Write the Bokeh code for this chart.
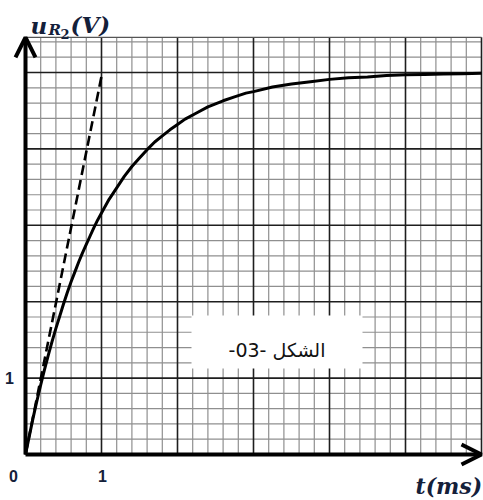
import numpy as np
from bokeh.plotting import figure
from bokeh.models import Range1d, Arrow, OpenHead
from bokeh.core.properties import value
from bokeh.embed import file_html
from bokeh.resources import INLINE

# ---- data ----
t_ms = [0, 0.05, 0.1, 0.15, 0.2, 0.25, 0.3, 0.35, 0.4, 0.45, 0.5, 0.55, 0.6, 0.65,
        0.7, 0.75, 0.8, 0.85, 0.9, 0.95, 1.0, 1.1, 1.2, 1.3, 1.4, 1.5, 1.6, 1.7,
        1.8, 1.9, 2.0, 2.1, 2.25, 2.4, 2.5, 2.6, 2.75, 2.9, 3.0, 3.25, 3.5, 3.75,
        4.0, 4.25, 4.5, 4.75, 5.0, 5.25, 5.5, 5.75, 6.0]
u_R2 = [0, 0.24, 0.48, 0.70, 0.91, 1.11, 1.30, 1.48, 1.65, 1.81, 1.97, 2.12, 2.26,
        2.39, 2.52, 2.64, 2.75, 2.86, 2.97, 3.07, 3.16, 3.34, 3.49, 3.64, 3.77,
        3.88, 3.99, 4.09, 4.17, 4.25, 4.32, 4.39, 4.47, 4.55, 4.59, 4.63, 4.68,
        4.73, 4.75, 4.81, 4.85, 4.88, 4.91, 4.93, 4.94, 4.96, 4.97, 4.975, 4.98,
        4.985, 4.99]
tangent_t = [0, 1.0]
tangent_u = [0, 4.95]
x_tick_labels = ["0", "1"]
y_tick_labels = ["1"]
x_max, y_top = 6.0, 5.46
x_minor, y_minor = 0.2, 0.2
caption = "-03- الشكل"

# pixel scale of the reference
SX, SY, OX, OY = 76.0, 76.4, 25.0, 454.0
W, H = 483, 500
INK = "#14203a"

def dx(px):
    return (px - OX) / SX

def dy(py):
    return (OY - py) / SY

p = figure(width=W, height=H, output_backend="svg", toolbar_location=None,
           x_range=Range1d(dx(0), dx(W)), y_range=Range1d(dy(H), dy(0)),
           min_border=0)
p.axis.visible = False
p.grid.visible = False
p.outline_line_color = None
p.background_fill_color = "white"

# ---- graph paper ----
xs = np.round(np.arange(0, x_max + 1e-9, x_minor), 6)
ys = np.round(np.arange(0, y_top, y_minor), 6)
xminor = [v for v in xs if abs(v - round(v)) > 1e-6]
xmajor = [v for v in xs if abs(v - round(v)) <= 1e-6 and v > 0]
yminor = [v for v in ys if abs(v - round(v)) > 1e-6]
ymajor = [v for v in ys if abs(v - round(v)) <= 1e-6 and v > 0]

p.segment(x0=xminor, y0=0, x1=xminor, y1=y_top, line_color="#8f8f8f", line_width=1.2)
p.segment(x0=0, y0=yminor, x1=x_max, y1=yminor, line_color="#8f8f8f", line_width=1.2)
p.segment(x0=xmajor, y0=0, x1=xmajor, y1=y_top, line_color="#1e1e1e", line_width=1.6)
p.segment(x0=0, y0=ymajor, x1=x_max, y1=ymajor, line_color="#1e1e1e", line_width=1.6)
p.segment(x0=[0], y0=[y_top], x1=[x_max], y1=[y_top], line_color="#555555", line_width=1.4)

# ---- caption box ----
p.quad(left=[dx(191)], right=[dx(362)], bottom=[dy(368)], top=[dy(315)],
       fill_color="white", line_color=None)
p.text(x=[dx(276.5)], y=[dy(349)], text=[caption], text_font=value("DejaVu Sans"),
       text_font_size="19px", text_align="center", text_baseline="alphabetic",
       text_color="#111111")

# ---- curve and tangent ----
p.line(tangent_t, tangent_u, line_color="black", line_width=2.6, line_dash="10 5")
p.line(t_ms, u_R2, line_color="black", line_width=3, line_join="round")

# ---- axes with arrows ----
p.add_layout(Arrow(end=OpenHead(size=20, line_width=4, line_color="black"),
                   x_start=0, y_start=0, x_end=0, y_end=y_top,
                   line_width=4, line_color="black"))
p.add_layout(Arrow(end=OpenHead(size=20, line_width=4, line_color="black"),
                   x_start=0, y_start=0, x_end=x_max, y_end=0,
                   line_width=4, line_color="black"))

# ---- tick labels ----
tick_font = value("Liberation Sans")
p.text(x=[dx(13), dx(102)], y=[dy(475)] * 2, text=x_tick_labels, text_font=tick_font,
       text_font_size="16px", text_font_style="bold", text_align="center",
       text_baseline="alphabetic", text_color=INK)
p.text(x=[dx(9)], y=[dy(377)], text=y_tick_labels, text_font=tick_font,
       text_font_size="16px", text_font_style="bold", text_align="center",
       text_baseline="alphabetic", text_color=INK)

# ---- axis titles ----
serif = value("DejaVu Serif")
def ttl(xp, yp, s, size, style="bold italic"):
    p.text(x=[dx(xp)], y=[dy(yp)], text=[s], text_font=serif, text_font_size=size,
           text_font_style=style, text_align="left",
           text_baseline="alphabetic", text_color=INK)

ttl(30, 25, "u", "23px")
ttl(48, 29, "R", "15px")
ttl(60, 33, "2", "13px", "bold")
ttl(70, 24, "(V)", "23px")
ttl(415, 485, "t(ms)", "22px")

open("out.html", "w").write(file_html(p, INLINE))
